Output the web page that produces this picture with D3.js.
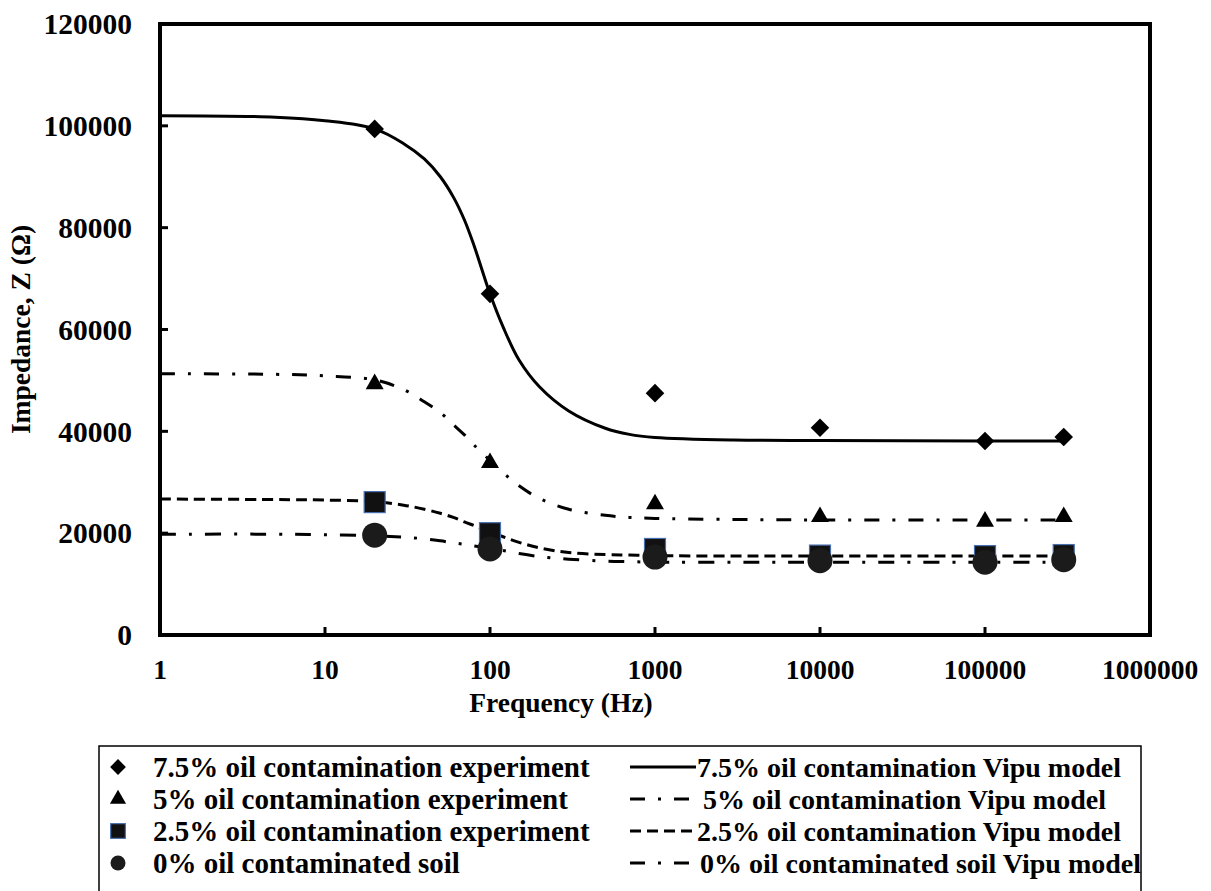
<!DOCTYPE html>
<html>
<head>
<meta charset="utf-8">
<script src="https://cdn.jsdelivr.net/npm/d3@7"></script>
<style>
body { margin: 0; background: #fff; }
text { font-family: "Liberation Serif", "Times New Roman", serif; font-weight: bold; fill: #000; }
</style>
</head>
<body>
<svg id="chart" width="1211" height="891"></svg>
<script>
// experiment points (Hz, ohm)
var freqExp = [20, 100, 1000, 10000, 100000, 300000];
var exp75 = [99400, 67000, 47500, 40700, 38100, 38900];
var exp5 = [49300, 33800, 25700, 23200, 22300, 23200];
var exp25 = [26100, 20000, 16900, 15600, 15500, 15700];
var exp0 = [19600, 16900, 15300, 14600, 14300, 14800];

// Vipu model curves
var freqModel = [1, 5, 10, 20, 30, 40, 50, 60, 70, 80, 100, 120, 150, 200, 300, 500, 700, 1000, 3000, 10000, 100000, 300000];
var model75 = [102000, 101700, 101000, 99400, 96500, 93500, 90000, 86000, 81500, 76500, 67000, 60500, 54000, 48700, 44000, 40600, 39400, 38800, 38300, 38200, 38100, 38100];
var model5 = [51300, 51200, 50900, 50100, 48200, 45800, 43700, 41300, 39300, 37300, 34300, 31900, 29300, 26800, 24700, 23500, 23100, 22900, 22700, 22600, 22600, 22600];
var model25 = [26700, 26600, 26500, 26200, 25500, 24700, 23900, 23100, 22200, 21500, 20300, 19300, 18200, 17100, 16200, 15800, 15700, 15600, 15500, 15500, 15500, 15500];
var model0 = [19800, 19800, 19700, 19500, 19200, 18900, 18500, 18100, 17800, 17500, 17000, 16600, 16000, 15400, 14900, 14500, 14400, 14300, 14300, 14300, 14300, 14300];

var xTicks = [1, 10, 100, 1000, 10000, 100000, 1000000];
var yTicks = [0, 20000, 40000, 60000, 80000, 100000, 120000];

var expLabels = ["7.5% oil contamination experiment", "5% oil contamination experiment",
  "2.5% oil contamination experiment", "0% oil contaminated soil"];
var modelLabels = ["7.5% oil contamination Vipu model", "5% oil contamination Vipu model",
  "2.5% oil contamination Vipu model", "0% oil contaminated soil Vipu model"];

var svg = d3.select("#chart");
// plot area edges (don't call it "top", that's window.top)
var plotL = 160, plotR = 1150, plotT = 24, plotB = 635;

var x = d3.scaleLog().domain([1, 1000000]).range([plotL, plotR]);
var y = d3.scaleLinear().domain([0, 120000]).range([plotB, plotT]);

// dash styles per series
var dashes = [null, "15,13,3,13", "11,6", "16,13,3,13"];

var line = d3.line()
    .x(function(d) { return x(d[0]); })
    .y(function(d) { return y(d[1]); })
    .curve(d3.curveCatmullRom.alpha(0.5));

var models = [model75, model5, model25, model0];
models.forEach(function(m, i) {
  svg.append("path")
      .datum(freqModel.map(function(f, j) { return [f, m[j]]; }))
      .attr("d", line)
      .attr("fill", "none")
      .attr("stroke", "#000")
      .attr("stroke-width", 3)
      .attr("stroke-dasharray", dashes[i]);
});

// markers
function drawMarker(g, kind, cx, cy, s) {
  if (kind == 0) {
    g.append("path").attr("d", d3.symbol(d3.symbolDiamond2, 220 * s * s)())
        .attr("transform", "translate(" + cx + "," + cy + ")")
        .attr("fill", "#000");
  } else if (kind == 1) {
    g.append("path").attr("d", d3.symbol(d3.symbolTriangle, 140 * s * s)())
        .attr("transform", "translate(" + cx + "," + cy + ")")
        .attr("fill", "#000");
  } else if (kind == 2) {
    var h = 10.5 * s;
    g.append("rect").attr("x", cx - h).attr("y", cy - h)
        .attr("width", 2 * h).attr("height", 2 * h)
        .attr("fill", "#111").attr("stroke", "#4a6fb0").attr("stroke-width", 1.2);
  } else {
    g.append("circle").attr("cx", cx).attr("cy", cy).attr("r", 12.5 * s)
        .attr("fill", "#1b1b1b");
  }
}

var exps = [exp75, exp5, exp25, exp0];
var mg = svg.append("g");
exps.forEach(function(e, i) {
  freqExp.forEach(function(f, j) {
    drawMarker(mg, i, x(f), y(e[j]), 1);
  });
});

// plot frame
svg.append("rect")
    .attr("x", plotL).attr("y", plotT)
    .attr("width", plotR - plotL).attr("height", plotB - plotT)
    .attr("fill", "none").attr("stroke", "#000").attr("stroke-width", 4);

// y ticks + labels
yTicks.forEach(function(t) {
  svg.append("line").attr("x1", plotL).attr("x2", plotL + 8)
      .attr("y1", y(t)).attr("y2", y(t))
      .attr("stroke", "#000").attr("stroke-width", 3);
  svg.append("text").attr("x", 132).attr("y", y(t))
      .attr("text-anchor", "end").attr("dy", "0.35em")
      .style("font-size", "29.5px").text(t);
});

// x ticks + labels
xTicks.forEach(function(t) {
  svg.append("line").attr("x1", x(t)).attr("x2", x(t))
      .attr("y1", plotB).attr("y2", plotB - 8)
      .attr("stroke", "#000").attr("stroke-width", 3);
  svg.append("text").attr("x", x(t)).attr("y", 679)
      .attr("text-anchor", "middle")
      .style("font-size", "27.5px").text(t);
});

svg.append("text").attr("x", 561).attr("y", 712)
    .attr("text-anchor", "middle").style("font-size", "27.5px")
    .text("Frequency (Hz)");

svg.append("text")
    .attr("transform", "translate(30," + ((plotT + plotB) / 2) + ") rotate(-90)")
    .attr("text-anchor", "middle").style("font-size", "27.5px")
    .text("Impedance, Z (\u03A9)");

// legend
var legend = svg.append("g");
legend.append("rect")
    .attr("x", 99).attr("y", 746).attr("width", 1042).attr("height", 160)
    .attr("fill", "#fff").attr("stroke", "#000").attr("stroke-width", 1.5);

var rowY = [767, 799, 831, 863];
var legScale = [0.85, 0.9, 0.7, 0.6];
expLabels.forEach(function(lab, i) {
  drawMarker(legend, i, 118, rowY[i], legScale[i]);
  legend.append("text").attr("x", 153).attr("y", rowY[i]).attr("dy", "0.35em")
      .style("font-size", "29px").text(lab);
});

var sampleDash = [null, "15,13,3,13", "11,6", "15,13,3,13"];
var textX = [697, 703, 697, 700];
modelLabels.forEach(function(lab, i) {
  legend.append("line").attr("x1", 630).attr("x2", i == 1 || i == 3 ? 694 : 696)
      .attr("y1", rowY[i]).attr("y2", rowY[i])
      .attr("stroke", "#000").attr("stroke-width", 3)
      .attr("stroke-dasharray", sampleDash[i]);
  legend.append("text").attr("x", textX[i]).attr("y", rowY[i]).attr("dy", "0.35em")
      .style("font-size", "28px").text(lab);
});
</script>
</body>
</html>
